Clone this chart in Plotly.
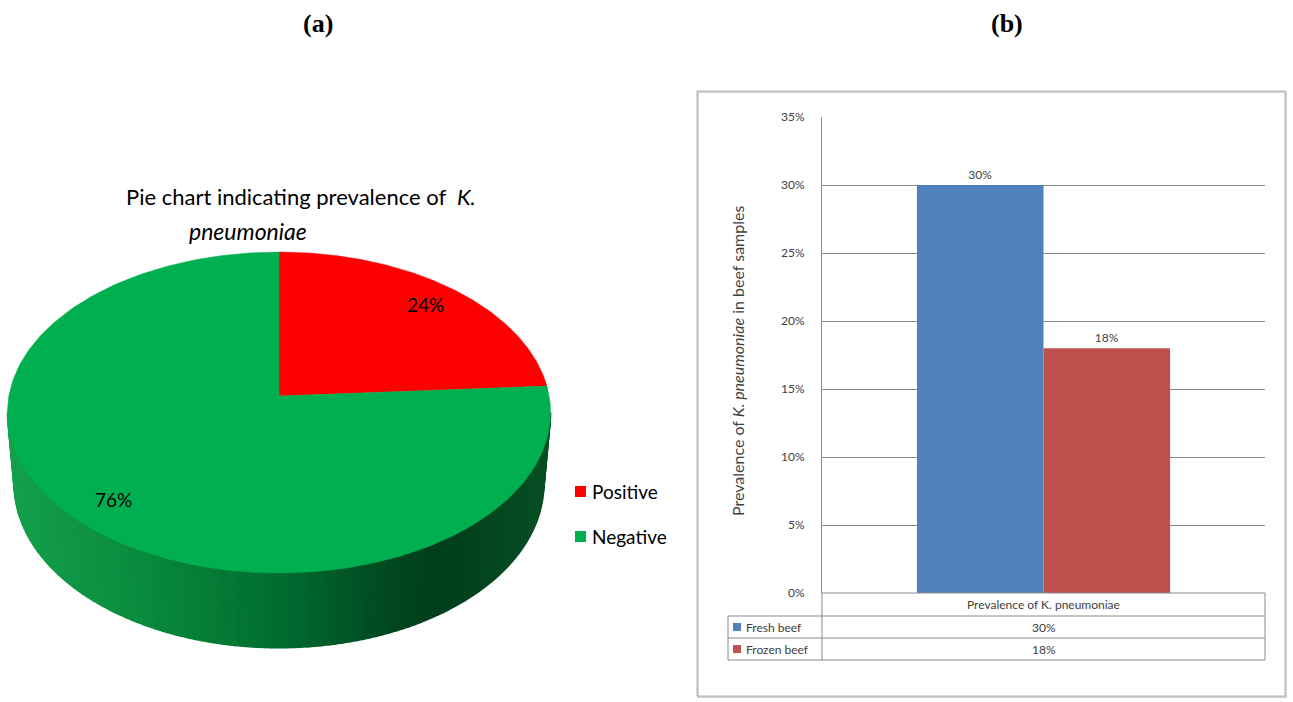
import numpy as np
import plotly.graph_objects as go

W, H = 1293, 702

# ---- panel (a): pie data ----
pie_labels = ["Positive", "Negative"]
pie_values = [24, 76]
pie_colors = ["#FF0000", "#00B050"]

# ---- panel (b): bar data ----
bar_category = ["Prevalence of K. pneumoniae"]
bar_series = ["Fresh beef", "Frozen beef"]
bar_values = [0.30, 0.18]
bar_colors = ["#4F81BD", "#C0504D"]
y_ticks = [0.0, 0.05, 0.10, 0.15, 0.20, 0.25, 0.30, 0.35]
y_ticktext = ["0%", "5%", "10%", "15%", "20%", "25%", "30%", "35%"]

FONT = "Lato, sans-serif"
TXT = "#404040"

fig = go.Figure()

# ---------------- 3D pie (perspective projection of a short cylinder) -------
PHI = np.radians(36.0)          # camera elevation
C, S = np.cos(PHI), np.sin(PHI)
DIST = 7.87                     # camera distance (unit radius)
FOC = 2126.0                    # focal scale in pixels
THICK = 0.336                   # cylinder height (unit radius)
CX, CY = 279.0, 396.0           # projected centre of the top face


def project(X, Y, Z):
    depth = Y * C - Z * S + DIST
    up = Y * S + Z * C
    return CX + FOC * X / depth, CY - FOC * up / depth


def rim(theta, z):
    # theta measured clockwise from the far (12 o'clock) point
    return project(np.sin(theta), np.cos(theta), z)


def lerp_color(t, stops):
    for (t0, c0), (t1, c1) in zip(stops[:-1], stops[1:]):
        if t <= t1:
            f = 0 if t1 == t0 else (t - t0) / (t1 - t0)
            rgb = [int(round(a + (b - a) * f)) for a, b in zip(c0, c1)]
            return "rgb(%d,%d,%d)" % tuple(rgb)
    return "rgb(%d,%d,%d)" % stops[-1][1]


side_stops = [
    (0.00, (20, 160, 76)),
    (0.25, (8, 138, 60)),
    (0.50, (0, 108, 48)),
    (0.72, (0, 70, 31)),
    (0.80, (0, 62, 28)),
    (1.00, (6, 78, 36)),
]

# visible side: between the two silhouette angles, through the front
cos_sil = -C / DIST
th_right = np.arccos(cos_sil)
th_left = 2 * np.pi - th_right
xs_min, _ = rim(th_left, 0)
xs_max, _ = rim(th_right, 0)

n_strips = 120
edges = np.linspace(th_right, th_left, n_strips + 1)
for a, b in zip(edges[:-1], edges[1:]):
    th = np.linspace(a, b, 4)
    tx, ty = rim(th, 0.0)
    bx, by = rim(th[::-1], -THICK)
    px = np.concatenate([tx, bx])
    py = np.concatenate([ty, by])
    xm, _ = rim((a + b) / 2, 0.0)
    col = lerp_color((xm - xs_min) / (xs_max - xs_min), side_stops)
    fig.add_trace(go.Scatter(
        x=px, y=py, mode="lines", fill="toself", fillcolor=col,
        line=dict(color=col, width=1.5), hoverinfo="skip", showlegend=False,
        xaxis="x", yaxis="y"))

# top face slices
total = float(sum(pie_values))
start = 0.0
mids = []
for val, col in zip(pie_values, pie_colors):
    sweep = 2 * np.pi * val / total
    th = np.linspace(start, start + sweep, 240)
    ax_, ay_ = rim(th, 0.0)
    px = np.concatenate([[CX], ax_, [CX]])
    py = np.concatenate([[CY], ay_, [CY]])
    fig.add_trace(go.Scatter(
        x=px, y=py, mode="lines", fill="toself", fillcolor=col,
        line=dict(color=col, width=0.5), hoverinfo="skip", showlegend=False,
        xaxis="x", yaxis="y"))
    mids.append(start + sweep / 2)
    start += sweep

# percentage labels on the top face
LABEL_R = 0.84
for val, th in zip(pie_values, mids):
    lx, ly = project(LABEL_R * np.sin(th), LABEL_R * np.cos(th), 0.0)
    fig.add_annotation(x=lx, y=ly, xref="x", yref="y", showarrow=False,
                       xanchor="center", yanchor="middle",
                       text="%d%%" % round(100 * val / total),
                       font=dict(family=FONT, size=19, color="#000000"))

# ---------------- bar chart ----------------
for name, val, col in zip(bar_series, bar_values, bar_colors):
    fig.add_trace(go.Bar(
        x=bar_category, y=[val], name=name, marker=dict(color=col, line=dict(width=0)),
        text=["%d%%" % round(val * 100)], textposition="outside",
        textfont=dict(family=FONT, size=12, color=TXT), cliponaxis=False,
        xaxis="x2", yaxis="y2", showlegend=False, hoverinfo="skip"))


def fx(p):
    return p / W


def fy(p):
    return 1 - p / H


PLOT_L, PLOT_R, PLOT_T, PLOT_B = 822, 1265, 117, 593

fig.update_layout(
    template="none",
    width=W, height=H,
    margin=dict(l=0, r=0, t=0, b=0, pad=0, autoexpand=False),
    paper_bgcolor="white", plot_bgcolor="white",
    barmode="group", bargap=1.5 / 3.5, bargroupgap=0,
    xaxis=dict(domain=[0, 0.5], range=[0, W * 0.5], visible=False, fixedrange=True,
               automargin=False),
    yaxis=dict(domain=[0, 1], range=[H, 0], visible=False, fixedrange=True,
               automargin=False),
    xaxis2=dict(domain=[fx(PLOT_L), fx(PLOT_R)], anchor="y2", showticklabels=False,
                showgrid=False, showline=False, zeroline=False, ticks="",
                automargin=False),
    yaxis2=dict(domain=[fy(PLOT_B), fy(PLOT_T)], anchor="x2", range=[0, 0.35],
                tickvals=y_ticks, ticktext=y_ticktext, showgrid=True,
                gridcolor="#8a8a8a", gridwidth=1, showline=True, linecolor="#8a8a8a",
                linewidth=1, zeroline=False, ticks="", ticklabelstandoff=14,
                automargin=False,
                tickfont=dict(family=FONT, size=12, color=TXT)),
    showlegend=False,
)

shapes = []
# frame around panel (b)
shapes.append(dict(type="rect", xref="paper", yref="paper",
                   x0=fx(698), x1=fx(1286), y0=fy(697), y1=fy(92),
                   line=dict(color="#d0d0d0", width=2), fillcolor="rgba(0,0,0,0)",
                   layer="below"))
shapes.append(dict(type="rect", xref="paper", yref="paper",
                   x0=fx(697), x1=fx(1285), y0=fy(696), y1=fy(91),
                   line=dict(color="#b4b4b4", width=1), fillcolor="rgba(0,0,0,0)",
                   layer="below"))

# data table under the plot area
GRID = "#8a8a8a"
TAB_L = 728
row_y = [593, 616, 638, 660]


def hline(x0, x1, y):
    return dict(type="line", xref="paper", yref="paper", x0=fx(x0), x1=fx(x1),
                y0=fy(y), y1=fy(y), line=dict(color=GRID, width=1))


def vline(x, y0, y1):
    return dict(type="line", xref="paper", yref="paper", x0=fx(x), x1=fx(x),
                y0=fy(y0), y1=fy(y1), line=dict(color=GRID, width=1))


def label(x, y, text, size, color=TXT, xanchor="center", family=FONT, angle=0):
    fig.add_annotation(x=fx(x), y=fy(y), xref="paper", yref="paper", showarrow=False,
                       xanchor=xanchor, yanchor="middle", textangle=angle, text=text,
                       font=dict(family=family, size=size, color=color))


shapes.append(hline(PLOT_L, PLOT_R, row_y[0]))
for yy in row_y[1:]:
    shapes.append(hline(TAB_L, PLOT_R, yy))
shapes.append(vline(PLOT_L, row_y[0], row_y[3]))
shapes.append(vline(PLOT_R, row_y[0], row_y[3]))
shapes.append(vline(TAB_L, row_y[1], row_y[3]))

label((PLOT_L + PLOT_R) / 2, (row_y[0] + row_y[1]) / 2, bar_category[0], 12)
for i, (name, val, col) in enumerate(zip(bar_series, bar_values, bar_colors)):
    yc = (row_y[i + 1] + row_y[i + 2]) / 2
    shapes.append(dict(type="rect", xref="paper", yref="paper",
                       x0=fx(733), x1=fx(741), y0=fy(yc + 4), y1=fy(yc - 4),
                       fillcolor=col, line=dict(width=0)))
    label(744, yc, name, 12, xanchor="left")
    label((PLOT_L + PLOT_R) / 2, yc, "%d%%" % round(val * 100), 12)

# y-axis title of the bar chart
label(737, 361, "Prevalence of <i>K. pneumoniae</i> in beef samples", 16, angle=-90)

# pie legend
for i, (lab, col) in enumerate(zip(pie_labels, pie_colors)):
    yc = 491 + 45 * i
    shapes.append(dict(type="rect", xref="paper", yref="paper",
                       x0=fx(575), x1=fx(586), y0=fy(yc + 6), y1=fy(yc - 5),
                       fillcolor=col, line=dict(width=0)))
    label(590, yc, lab, 19, color="#000000", xanchor="left")

# pie title (two lines)
label(301, 196, "Pie chart indicating prevalence of  <i>K.</i>", 22, color="#000000")
label(248, 231, "<i>pneumoniae</i>", 23, color="#000000")

# panel letters
for letter, xc in (("(a)", 318), ("(b)", 1007)):
    label(xc, 24, "<b>%s</b>" % letter, 26, color="#000000",
          family="Liberation Serif, Times New Roman, serif")

fig.update_layout(shapes=shapes)
fig.write_html("out.html")
